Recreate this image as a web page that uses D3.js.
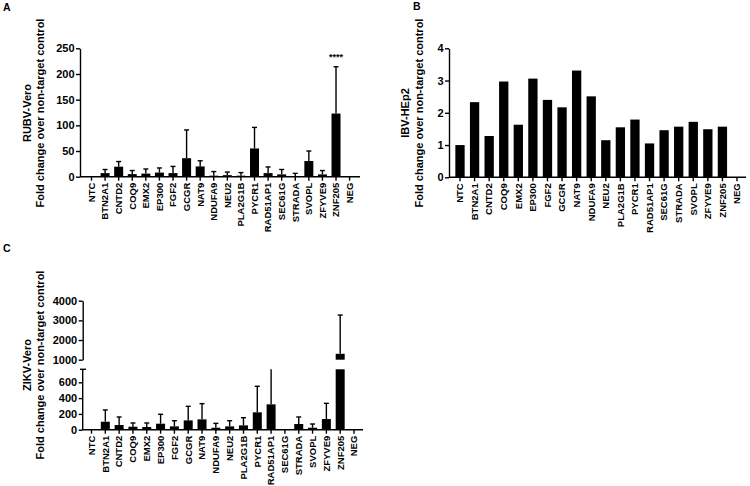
<!DOCTYPE html>
<html>
<head>
<meta charset="utf-8">
<script src="https://cdn.jsdelivr.net/npm/d3@7"></script>
<style>
    body { margin: 0; background: #fff; }
    svg { display: block; font-family: "Liberation Sans", Arial, sans-serif; font-weight: bold; }
</style>
</head>
<body>
<div id="chart"></div>
<script>
/////////////////////////////////////////
//////////////// DATA ///////////////////
/////////////////////////////////////////

const genes = ["NTC", "BTN2A1", "CNTD2", "COQ9", "EMX2", "EP300", "FGF2", "GCGR", "NAT9", "NDUFA9",
    "NEU2", "PLA2G1B", "PYCR1", "RAD51AP1", "SEC61G", "STRADA", "SVOPL", "ZFYVE9", "ZNF205", "NEG"];

//A - RUBV-Vero (mean + SD)
const rubvMean = [0, 7, 19.5, 5, 6, 8, 7, 36, 20, 2, 3, 2, 55, 7, 4.5, 1, 30.5, 4.5, 123, 0];
const rubvSD   = [0, 7, 10, 7, 9, 9, 13, 55, 11, 8, 6, 6, 41, 12, 9.5, 5.5, 19.5, 7.5, 91, 0];
const rubvTicks = [0, 50, 100, 150, 200, 250];

//B - IBV-HEp2 (single values)
const ibvValue = [1.0, 2.33, 1.28, 2.97, 1.63, 3.06, 2.40, 2.17, 3.31, 2.51,
    1.15, 1.55, 1.79, 1.05, 1.46, 1.57, 1.72, 1.49, 1.57, 0];
const ibvTicks = [0, 1, 2, 3, 4];

//C - ZIKV-Vero (mean + SD), broken axis
const zikvMean = [0, 101, 59, 38, 34, 76, 42, 118, 131, 25, 42, 55, 220, 321, 2, 72, 25, 135, 1300, 0];
const zikvSD   = [0, 149, 102, 47, 51, 119, 72, 178, 199, 55, 72, 97, 330, 480, 0, 89, 47, 199, 1970, 0];
const zikvLowTicks = [0, 200, 400, 600];
const zikvHighTicks = [1000, 2000, 3000, 4000];

/////////////////////////////////////////
/////////////// SETTINGS ////////////////
/////////////////////////////////////////

const WIDTH = 750, HEIGHT = 486;
const LINE = 1.4;
const CAP = 5;

const svg = d3.select("#chart").append("svg")
    .attr("width", WIDTH)
    .attr("height", HEIGHT);

function yAxis(g, scale, ticks) {
    g.call(d3.axisLeft(scale).tickValues(ticks).tickFormat(d3.format("d"))
            .tickSize(4).tickPadding(1.5).tickSizeOuter(0))
        .attr("font-family", null)
        .attr("font-size", "11px")
        .attr("font-weight", "bold");
    g.selectAll("line, path").attr("stroke", "#000").attr("stroke-width", LINE);
    g.selectAll("text").attr("fill", "#000");
}

function xAxis(g, x, baseY, x0, x1) {
    g.append("line")
        .attr("x1", x0).attr("x2", x1)
        .attr("y1", baseY).attr("y2", baseY)
        .attr("stroke", "#000").attr("stroke-width", LINE);
    g.selectAll(".xtick").data(genes).join("line")
        .attr("x1", d => x(d)).attr("x2", d => x(d))
        .attr("y1", baseY).attr("y2", baseY + 4)
        .attr("stroke", "#000").attr("stroke-width", LINE);
    g.selectAll(".xlab").data(genes).join("text")
        .attr("transform", d => `translate(${x(d)},${baseY + 6}) rotate(-90)`)
        .attr("text-anchor", "end")
        .attr("dy", "0.35em")
        .attr("font-size", "9.5px")
        .text(d => d);
}

function yTitle(g, lines, xs, cy) {
    lines.forEach((t, i) => {
        g.append("text")
            .attr("transform", `translate(${xs[i]},${cy}) rotate(-90)`)
            .attr("text-anchor", "middle")
            .attr("dy", "0.35em")
            .attr("font-size", "11px")
            .text(t);
    });
}

function panelLetter(txt, x, y) {
    svg.append("text").attr("x", x).attr("y", y)
        .attr("font-size", "10.5px").text(txt);
}

function errorBars(g, data, x, y, clipTop) {
    g.selectAll(null).data(data.filter(d => d.sd > 0)).join("g")
        .each(function(d) {
            const top = d.mean + d.sd;
            const clipped = clipTop != null && top > clipTop;
            const yTop = y(clipped ? clipTop : top);
            const sel = d3.select(this);
            sel.append("line")
                .attr("x1", x(d.gene)).attr("x2", x(d.gene))
                .attr("y1", y(Math.min(d.mean, clipTop ?? d.mean))).attr("y2", yTop)
                .attr("stroke", "#000").attr("stroke-width", LINE);
            if (!clipped) {
                sel.append("line")
                    .attr("x1", x(d.gene) - CAP / 2).attr("x2", x(d.gene) + CAP / 2)
                    .attr("y1", yTop).attr("y2", yTop)
                    .attr("stroke", "#000").attr("stroke-width", LINE);
            }
        });
}

/////////////////////////////////////////
/////////////// PANEL A /////////////////
/////////////////////////////////////////

(function() {
    const g = svg.append("g");
    const x = d3.scalePoint().domain(genes).range([91.5, 349.6]);
    const y = d3.scaleLinear().domain([0, 250]).range([176.7, 48.3]);
    const bw = 9;
    const data = genes.map((gene, i) => ({gene, mean: rubvMean[i], sd: rubvSD[i]}));

    g.selectAll(".bar").data(data).join("rect")
        .attr("x", d => x(d.gene) - bw / 2)
        .attr("width", bw)
        .attr("y", d => y(d.mean))
        .attr("height", d => y(0) - y(d.mean))
        .attr("fill", "#000");
    errorBars(g, data, x, y);

    g.append("g").attr("transform", "translate(80,0)").call(yAxis, y, rubvTicks);
    xAxis(g, x, y(0), 80, 360);

    //significance
    g.append("text")
        .attr("x", x("ZNF205")).attr("y", 60)
        .attr("text-anchor", "middle")
        .attr("font-size", "9px")
        .text("****");

    yTitle(g, ["RUBV-Vero", "Fold change over non-target control"], [27, 40], 113);
    panelLetter("A", 3, 11);
})();

/////////////////////////////////////////
/////////////// PANEL B /////////////////
/////////////////////////////////////////

(function() {
    const g = svg.append("g");
    const x = d3.scalePoint().domain(genes).range([460, 737]);
    const y = d3.scaleLinear().domain([0, 4]).range([177.3, 48.3]);
    const bw = 9.3;

    g.selectAll(".bar").data(genes).join("rect")
        .attr("x", d => x(d) - bw / 2)
        .attr("width", bw)
        .attr("y", (d, i) => y(ibvValue[i]))
        .attr("height", (d, i) => y(0) - y(ibvValue[i]))
        .attr("fill", "#000");

    g.append("g").attr("transform", "translate(449,0)").call(yAxis, y, ibvTicks);
    xAxis(g, x, y(0), 449, 746);

    yTitle(g, ["IBV-HEp2", "Fold change over non-target control"], [405, 419], 113);
    panelLetter("B", 413, 10);
})();

/////////////////////////////////////////
/////////////// PANEL C /////////////////
/////////////////////////////////////////

(function() {
    const g = svg.append("g");
    const x = d3.scalePoint().domain(genes).range([91.5, 354]);
    const yLow = d3.scaleLinear().domain([0, 765]).range([429.7, 369.3]);
    const yHigh = d3.scaleLinear().domain([1000, 4000]).range([359.7, 300.7]);
    const bw = 9;
    const lowMax = 765;
    const data = genes.map((gene, i) => ({gene, mean: zikvMean[i], sd: zikvSD[i]}));

    //lower segment
    g.selectAll(".bar").data(data).join("rect")
        .attr("x", d => x(d.gene) - bw / 2)
        .attr("width", bw)
        .attr("y", d => yLow(Math.min(d.mean, lowMax)))
        .attr("height", d => yLow(0) - yLow(Math.min(d.mean, lowMax)))
        .attr("fill", "#000");
    errorBars(g, data.filter(d => d.mean < 1000), x, yLow, lowMax);

    //upper segment
    const high = data.filter(d => d.mean > 1000);
    g.selectAll(".barHigh").data(high).join("rect")
        .attr("x", d => x(d.gene) - bw / 2)
        .attr("width", bw)
        .attr("y", d => yHigh(d.mean))
        .attr("height", d => yHigh(1000) - yHigh(d.mean))
        .attr("fill", "#000");
    errorBars(g, high, x, yHigh);

    g.append("g").attr("transform", "translate(82.7,0)").call(yAxis, yLow, zikvLowTicks)
        .select(".domain").attr("d", `M0,${yLow(0)}V${yLow(lowMax)}`);
    g.append("line")
        .attr("x1", 80).attr("x2", 86)
        .attr("y1", yLow(lowMax)).attr("y2", yLow(lowMax))
        .attr("stroke", "#000").attr("stroke-width", LINE);
    g.append("g").attr("transform", "translate(82.7,0)").call(yAxis, yHigh, zikvHighTicks);

    xAxis(g, x, yLow(0), 82.7, 363);

    yTitle(g, ["ZIKV-Vero", "Fold change over non-target control"], [27, 40], 365);
    panelLetter("C", 3, 252);
})();
</script>
</body>
</html>
